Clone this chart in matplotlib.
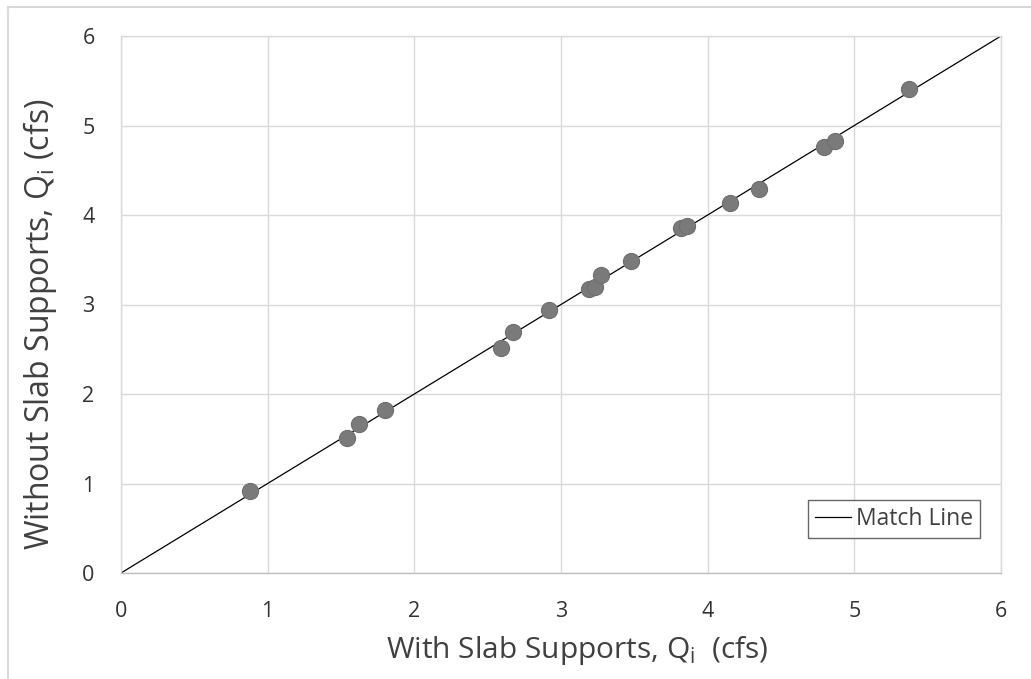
import matplotlib
matplotlib.use("Agg")
import matplotlib.pyplot as plt
from matplotlib.lines import Line2D

plt.rcParams['font.family'] = ['Open Sans', 'DejaVu Sans']
plt.rcParams['mathtext.fontset'] = 'custom'
plt.rcParams['mathtext.rm'] = 'Open Sans'

with_supports = [0.88, 1.54, 1.62, 1.80, 2.59, 2.67, 2.92, 3.19, 3.23, 3.27, 3.48,
                 3.82, 3.86, 4.15, 4.35, 4.79, 4.87, 5.37]
without_supports = [0.92, 1.51, 1.67, 1.82, 2.51, 2.69, 2.94, 3.17, 3.20, 3.33, 3.49,
                    3.85, 3.88, 4.13, 4.29, 4.76, 4.83, 5.41]
match_line = [0, 6]
ticks = [0, 1, 2, 3, 4, 5, 6]

fig = plt.figure(figsize=(10.31, 6.79), dpi=100)
ax = fig.add_axes([121/1031, 1-573/679, 880/1031, 537/679])

ax.plot(match_line, match_line, color='black', lw=0.9, label='Match Line', zorder=2)
ax.scatter(with_supports, without_supports, s=135, color='#7a7a7a',
           edgecolors='#6e6e6e', linewidths=0.8, zorder=3)

ax.set_xlim(0, 6)
ax.set_ylim(0, 6)
ax.set_xticks(ticks)
ax.set_yticks(ticks)
ax.grid(True, color='#d9d9d9', lw=1)
ax.set_axisbelow(True)
for s in ax.spines.values():
    s.set_color('#d9d9d9')
    s.set_linewidth(1)
ax.spines['bottom'].set_color('#bfbfbf')
ax.tick_params(length=0, labelsize=15.5, colors='#333333')
ax.tick_params(axis='x', pad=20)
ax.tick_params(axis='y', pad=19)

ax.set_xlabel('With Slab Supports, Q$_\\mathregular{i}$  (cfs)', fontsize=21.5,
              color='#404040')
ax.set_ylabel('Without Slab Supports, Q$_\\mathregular{i}$ (cfs)', fontsize=23,
              color='#404040')
ax.xaxis.set_label_coords(0.519, -0.113)
ax.yaxis.set_label_coords(-0.07, 0.464)

leg = ax.legend(loc='lower right', bbox_to_anchor=(0.976, 0.065), fontsize=16.5,
                frameon=True, fancybox=False, handlelength=1.6, handletextpad=0.2,
                borderpad=0.3, borderaxespad=0)
leg.get_frame().set_edgecolor('#404040')
leg.get_frame().set_linewidth(1)
for t in leg.get_texts():
    t.set_color('#404040')

# figure border (top and left)
fig.add_artist(Line2D([8/1031, 1], [1-7/679, 1-7/679], transform=fig.transFigure,
                      color='#d9d9d9', lw=1.5))
fig.add_artist(Line2D([8/1031, 8/1031], [0, 1-7/679], transform=fig.transFigure,
                      color='#d9d9d9', lw=1.5))

fig.savefig('out.png', dpi=100, facecolor='white')
